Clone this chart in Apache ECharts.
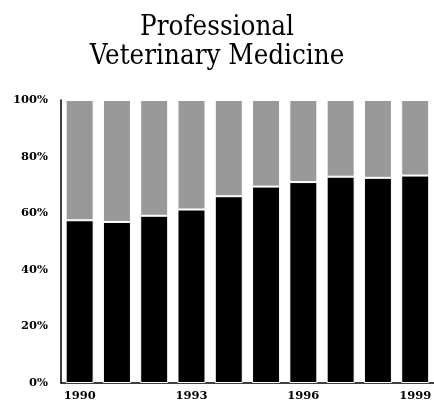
<!DOCTYPE html>
<html>
<head>
    <meta charset="utf-8" />
    <title>Professional Veterinary Medicine</title>
    <script src="https://cdn.jsdelivr.net/npm/echarts@6.0.0/dist/echarts.min.js"></script>
    <style>
        html, body { margin: 0; padding: 0; background: #fff; }
    </style>
</head>
<body>
    <div id="main" style="width: 434px;height:402px;"></div>

    <script type="text/javascript">
        var years = ['1990', '1991', '1992', '1993', '1994', '1995', '1996', '1997', '1998', '1999'];
        // share of each year (percent), black bottom part and gray top part
        var blackShare = [57.5, 56.9, 59.1, 61.3, 66.0, 69.4, 71.0, 72.9, 72.5, 73.3];
        var grayShare = [42.5, 43.1, 40.9, 38.7, 34.0, 30.6, 29.0, 27.1, 27.5, 26.7];

        var myChart = echarts.init(document.getElementById('main'));

        var labelFont = {
            fontFamily: 'DejaVu Serif',
            fontWeight: 'bold',
            fontSize: 11.5,
            color: '#000'
        };

        var option = {
            animation: false,
            title: {
                text: 'Professional\nVeterinary Medicine',
                left: 'center',
                top: 8,
                textStyle: {
                    fontFamily: 'DejaVu Serif Condensed, DejaVu Serif',
                    fontWeight: 'normal',
                    fontSize: 27.5,
                    lineHeight: 29,
                    color: '#000'
                }
            },
            grid: {
                left: 61,
                right: -4,
                top: 100,
                bottom: 19
            },
            xAxis: {
                type: 'category',
                data: years,
                axisLine: { lineStyle: { color: '#000', width: 1.5 } },
                axisTick: { show: false },
                axisLabel: Object.assign({ interval: 2, margin: 7 }, labelFont)
            },
            yAxis: {
                type: 'value',
                min: 0,
                max: 100,
                interval: 20,
                axisLine: { show: true, lineStyle: { color: '#000', width: 1.5 } },
                axisTick: { show: false },
                splitLine: { show: false },
                axisLabel: Object.assign({ margin: 13, formatter: '{value}%' }, labelFont)
            },
            series: [
                {
                    type: 'bar',
                    stack: 'share',
                    data: blackShare,
                    barWidth: 28,
                    itemStyle: { color: '#000', borderColor: '#fff', borderWidth: 1 }
                },
                {
                    type: 'bar',
                    stack: 'share',
                    data: grayShare,
                    barWidth: 28,
                    itemStyle: { color: '#999', borderColor: '#fff', borderWidth: 1 }
                }
            ]
        };

        myChart.setOption(option);
    </script>
</body>
</html>
